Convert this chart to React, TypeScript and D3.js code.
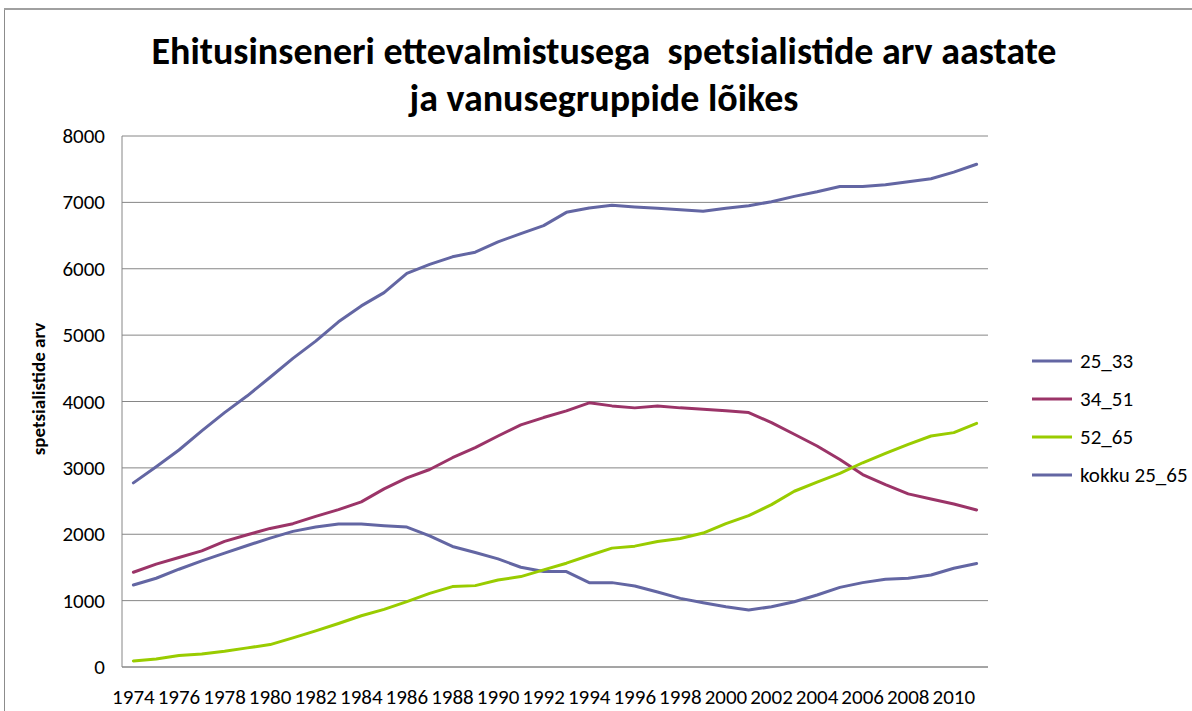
import React from "react";
import * as d3 from "d3";

const years: number[] = [];
for (let y = 1974; y <= 2011; y++) years.push(y);

const s25_33 = [1236, 1337, 1473, 1599, 1715, 1831, 1942, 2043, 2108, 2154, 2154, 2129, 2108, 1977, 1816, 1725,
  1629, 1503, 1438, 1438, 1271, 1271, 1221, 1130, 1034, 968, 908, 858, 908, 984, 1085, 1200, 1271, 1322, 1337, 1387, 1488, 1559];
const s34_51 = [1427, 1549, 1650, 1750, 1892, 1992, 2088, 2159, 2270, 2371, 2487, 2683, 2850, 2976, 3153, 3304,
  3480, 3647, 3758, 3859, 3980, 3934, 3904, 3934, 3904, 3884, 3859, 3834, 3682, 3506, 3329, 3127, 2900, 2749, 2608, 2532, 2456, 2366];
const s52_65 = [91, 121, 172, 197, 237, 288, 338, 439, 545, 656, 772, 868, 984, 1110, 1211, 1226,
  1311, 1362, 1463, 1564, 1680, 1791, 1821, 1892, 1937, 2018, 2159, 2280, 2446, 2648, 2784, 2916, 3077, 3218, 3354, 3480, 3531, 3672];
const sKokku = [2774, 3016, 3269, 3556, 3833, 4086, 4365, 4650, 4910, 5200, 5440, 5640, 5930, 6065, 6180, 6250,
  6405, 6530, 6650, 6850, 6915, 6955, 6930, 6910, 6890, 6865, 6910, 6950, 7010, 7090, 7160, 7240, 7240, 7265, 7310, 7355, 7455, 7575];

const seriesNames = ["25_33", "34_51", "52_65", "kokku 25_65"];
const seriesColors = ["#6366A3", "#9B3468", "#99CC00", "#6366A3"];
const seriesData = [s25_33, s34_51, s52_65, sKokku];
const yTicks = [0, 1000, 2000, 3000, 4000, 5000, 6000, 7000, 8000];
const titleLines = ["Ehitusinseneri ettevalmistusega  spetsialistide arv aastate", "ja vanusegruppide lõikes"];
const yAxisTitle = "spetsialistide arv";

export default function App() {
  const W = 1192, H = 711;
  const left = 122, right = 988, top = 136, bottom = 667;
  const x = d3.scaleBand<number>().domain(years).range([left, right]);
  const y = d3.scaleLinear().domain([0, 8000]).range([bottom, top]);
  const cx = (yr: number) => (x(yr) as number) + x.bandwidth() / 2;
  const line = d3.line<number>().x((_, i) => cx(years[i])).y(d => y(d));
  const font = "Carlito, Calibri, Lato, 'Open Sans', sans-serif";

  return (
    <svg width={W} height={H} style={{ position: "absolute", left: 0, top: 0, background: "#fff" }} fontFamily={font}>
      <rect x={0} y={0} width={W} height={H} fill="#fff" />
      <rect x={4.5} y={9} width={W + 10} height={H + 10} fill="none" stroke="#8c8c8c" strokeWidth={1} />
      <line x1={4} x2={W} y1={9} y2={9} stroke="#a0a0a0" strokeWidth={2} />
      {titleLines.map((t, i) => (
        <text key={i} x={604} y={64 + i * 47} textAnchor="middle" fontWeight="bold" fontSize={38} fill="#000" style={{ whiteSpace: "pre" }}>{t}</text>
      ))}
      {yTicks.map(t => (
        <g key={t}>
          <line x1={left} x2={right} y1={y(t)} y2={y(t)} stroke="#868686" strokeWidth={1} />
          <text x={105} y={y(t) + 7} textAnchor="end" fontSize={21} fill="#000">{t}</text>
        </g>
      ))}
      <line x1={left} x2={left} y1={top} y2={bottom} stroke="#868686" strokeWidth={1} />
      <line x1={left} x2={right} y1={bottom} y2={bottom} stroke="#868686" strokeWidth={1} />
      {years.filter((_, i) => i % 2 === 0).map(yr => (
        <text key={yr} x={cx(yr)} y={704} textAnchor="middle" fontSize={21} fill="#000">{yr}</text>
      ))}
      <text transform={`translate(45,389) rotate(-90)`} textAnchor="middle" fontWeight="bold" fontSize={19} fill="#000">{yAxisTitle}</text>
      {seriesData.map((d, i) => (
        <path key={i} d={line(d) || ""} fill="none" stroke={seriesColors[i]} strokeWidth={3} strokeLinejoin="round" strokeLinecap="round" />
      ))}
      {seriesNames.map((n, i) => (
        <g key={n}>
          <line x1={1032} x2={1072} y1={361 + i * 38} y2={361 + i * 38} stroke={seriesColors[i]} strokeWidth={3} />
          <text x={1080} y={368 + i * 38} fontSize={21} fill="#000">{n}</text>
        </g>
      ))}
    </svg>
  );
}
